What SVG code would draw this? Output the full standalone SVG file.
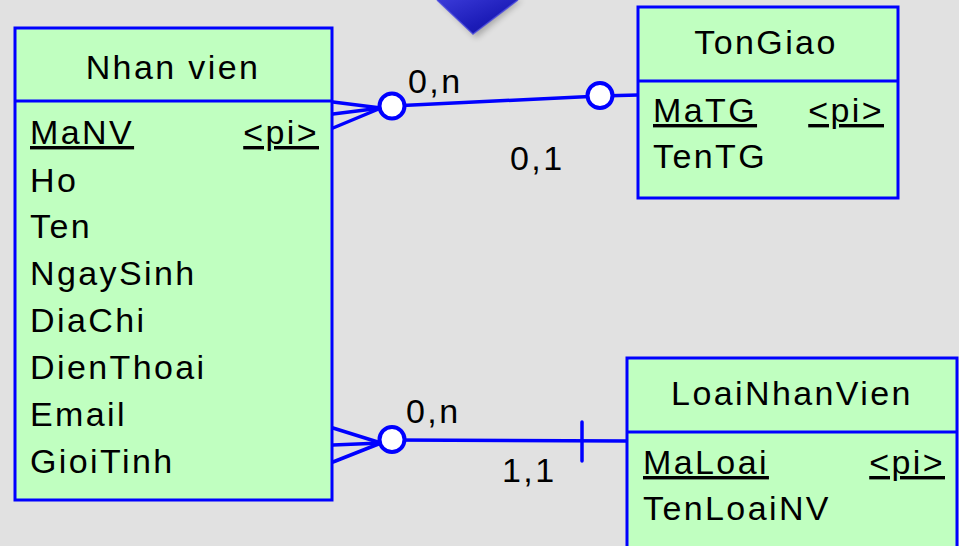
<svg xmlns="http://www.w3.org/2000/svg" width="959" height="546" viewBox="0 0 959 546">
  <defs>
    <linearGradient id="gem" x1="0" y1="0" x2="1" y2="1">
      <stop offset="0" stop-color="#3a3ad8"/>
      <stop offset="0.6" stop-color="#1c1cb8"/>
      <stop offset="1" stop-color="#12129a"/>
    </linearGradient>
    <filter id="soft" x="-30%" y="-30%" width="160%" height="160%">
      <feGaussianBlur stdDeviation="3"/>
    </filter>
  </defs>
  <style>
    .ent { fill: #c0ffc0; stroke: #0000ff; stroke-width: 3; }
    .div { stroke: #0000ff; stroke-width: 3; }
    .t { font-family: "Liberation Sans", Arial, sans-serif; font-size: 34px; letter-spacing: 2.4px; fill: #000; }
    .hd { text-anchor: middle; }
    .key { text-decoration: underline; }
    .r { text-anchor: end; }
    .ln { stroke: #0000ff; stroke-width: 3.5; fill: none; stroke-linecap: round; }
    .opt { fill: #ffffff; stroke: #0000ff; stroke-width: 4; }
  </style>

  <rect x="0" y="0" width="959" height="546" fill="#e1e1e1"/>

  <!-- decorative blue gem at top -->
  <g id="gem-decor">
    <polygon points="439,0 522,0 476,38" fill="#000" opacity="0.25" filter="url(#soft)"/>
    <polygon points="437,0 518,0 473,34" fill="url(#gem)"/>
    <polyline points="437,0 473,34 518,0" fill="none" stroke="#4848e0" stroke-width="1.5" opacity="0.8"/>
  </g>

  <!-- connectors -->
  <g id="connectors">
    <!-- Nhan vien (0,n) — TonGiao (0,1) -->
    <line class="ln" x1="333" y1="102" x2="381" y2="108"/>
    <line class="ln" x1="333" y1="114" x2="381" y2="108"/>
    <line class="ln" x1="333" y1="128" x2="381" y2="108"/>
    <line class="ln" x1="392" y1="106" x2="600" y2="96"/>
    <line class="ln" x1="600" y1="96" x2="638" y2="95"/>
    <circle class="opt" cx="392" cy="106" r="12.5"/>
    <circle class="opt" cx="600" cy="95.5" r="12.5"/>
    <text class="t" x="408" y="93">0,n</text>
    <text class="t" x="510" y="170">0,1</text>

    <!-- Nhan vien (0,n) — LoaiNhanVien (1,1) -->
    <line class="ln" x1="333" y1="428" x2="381" y2="443"/>
    <line class="ln" x1="333" y1="445" x2="381" y2="443"/>
    <line class="ln" x1="333" y1="462" x2="381" y2="443"/>
    <line class="ln" x1="392" y1="440" x2="627" y2="441"/>
    <line class="ln" x1="582" y1="422" x2="582" y2="461"/>
    <circle class="opt" cx="392" cy="439.5" r="12.5"/>
    <text class="t" x="406" y="423">0,n</text>
    <text class="t" x="502" y="482">1,1</text>
  </g>

  <!-- entity: Nhan vien -->
  <g id="nhanvien">
    <rect class="ent" x="15" y="28" width="317" height="472"/>
    <line class="div" x1="15" y1="101" x2="332" y2="101"/>
    <text class="t hd" x="173" y="79">Nhan vien</text>
    <text class="t key" x="30" y="144">MaNV</text>
    <text class="t key r" x="319" y="144">&lt;pi&gt;</text>
    <text class="t" x="30" y="192">Ho</text>
    <text class="t" x="30" y="238">Ten</text>
    <text class="t" x="30" y="285">NgaySinh</text>
    <text class="t" x="30" y="332">DiaChi</text>
    <text class="t" x="30" y="379">DienThoai</text>
    <text class="t" x="30" y="426">Email</text>
    <text class="t" x="30" y="473">GioiTinh</text>
  </g>

  <!-- entity: TonGiao -->
  <g id="tongiao">
    <rect class="ent" x="638" y="7" width="260" height="191"/>
    <line class="div" x1="638" y1="81" x2="898" y2="81"/>
    <text class="t hd" x="766" y="54">TonGiao</text>
    <text class="t key" x="653" y="122">MaTG</text>
    <text class="t key r" x="884" y="122">&lt;pi&gt;</text>
    <text class="t" x="653" y="168">TenTG</text>
  </g>

  <!-- entity: LoaiNhanVien -->
  <g id="loainhanvien">
    <rect class="ent" x="627" y="358" width="330" height="200"/>
    <line class="div" x1="627" y1="432" x2="957" y2="432"/>
    <text class="t hd" x="792" y="405">LoaiNhanVien</text>
    <text class="t key" x="643" y="474">MaLoai</text>
    <text class="t key r" x="945" y="474">&lt;pi&gt;</text>
    <text class="t" x="643" y="520">TenLoaiNV</text>
  </g>
</svg>
